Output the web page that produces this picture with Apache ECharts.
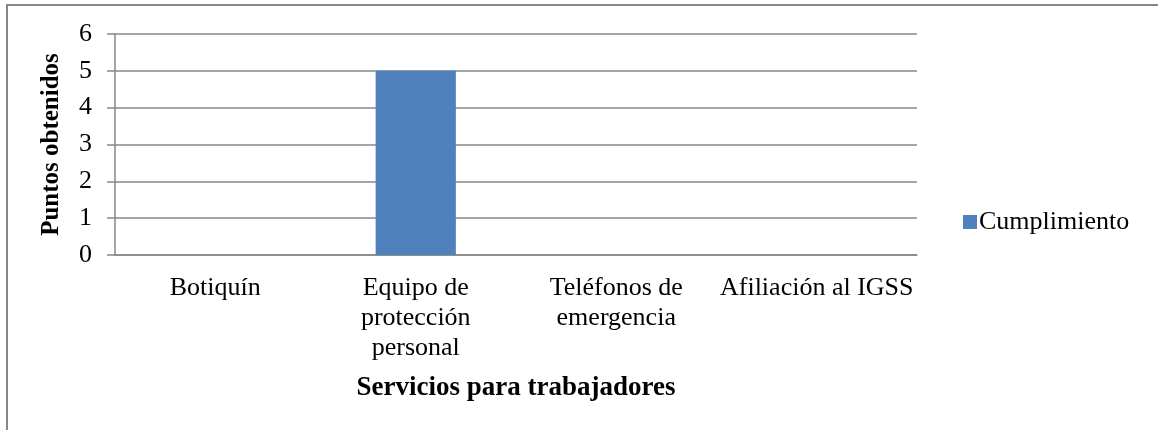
<!DOCTYPE html>
<html>
<head>
<meta charset="utf-8">
<script src="https://cdn.jsdelivr.net/npm/echarts@6/dist/echarts.min.js"></script>
<style>
  html, body { margin: 0; padding: 0; background: #fff; }
  #chart { width: 1158px; height: 430px; }
</style>
</head>
<body>
<div id="chart"></div>
<script>
// categorías del eje x (con saltos de línea como en el original)
const categorias = [
  "Botiquín",
  "Equipo de\nprotección\npersonal",
  "Teléfonos de\nemergencia",
  "Afiliación al IGSS",
];
const cumplimiento = [0, 5, 0, 0];
const serieNombre = "Cumplimiento";
const yTicks = [0, 1, 2, 3, 4, 5, 6];

const fuente = "'Liberation Serif', 'Times New Roman', serif";
const gris = "#878787";

const myChart = echarts.init(document.getElementById("chart"));
myChart.setOption({
  animation: false,
  textStyle: { fontFamily: fuente },
  graphic: [
    {
      type: "rect",
      shape: { x: 7, y: 5, width: 1160, height: 440 },
      style: { fill: "none", stroke: gris, lineWidth: 2 },
      silent: true,
    },
  ],
  legend: {
    data: [serieNombre],
    left: 958,
    top: 204,
    icon: "rect",
    itemWidth: 14,
    itemHeight: 14,
    itemGap: 5,
    textStyle: { fontFamily: fuente, fontSize: 26, color: "#000", padding: [0, 0, 0, -3] },
  },
  grid: {
    left: 115,
    right: 241,
    top: 34,
    bottom: 175,
  },
  xAxis: {
    type: "category",
    data: categorias,
    name: "Servicios para trabajadores",
    nameLocation: "middle",
    nameGap: 120,
    nameTextStyle: { fontFamily: fuente, fontSize: 27, fontWeight: "bold", color: "#000" },
    axisLine: { show: true, lineStyle: { color: gris, width: 1.5 } },
    axisTick: { show: false },
    axisLabel: {
      interval: 0,
      margin: 18,
      fontFamily: fuente,
      fontSize: 26,
      lineHeight: 30,
      color: "#000",
    },
  },
  yAxis: {
    type: "value",
    min: yTicks[0],
    max: yTicks[yTicks.length - 1],
    interval: 1,
    name: "Puntos obtenidos",
    nameLocation: "middle",
    nameGap: 51,
    nameTextStyle: { fontFamily: fuente, fontSize: 25, fontWeight: "bold", color: "#000" },
    axisLine: { show: true, lineStyle: { color: gris, width: 1.5 } },
    axisTick: { show: true, length: 8, lineStyle: { color: gris, width: 1.5 } },
    axisLabel: { margin: 23, fontFamily: fuente, fontSize: 26, color: "#000" },
    splitLine: { show: true, lineStyle: { color: gris, width: 1.5 } },
  },
  series: [
    {
      name: serieNombre,
      type: "bar",
      data: cumplimiento,
      barWidth: "40%",
      itemStyle: { color: "#4f81bd" },
    },
  ],
});
</script>
</body>
</html>
